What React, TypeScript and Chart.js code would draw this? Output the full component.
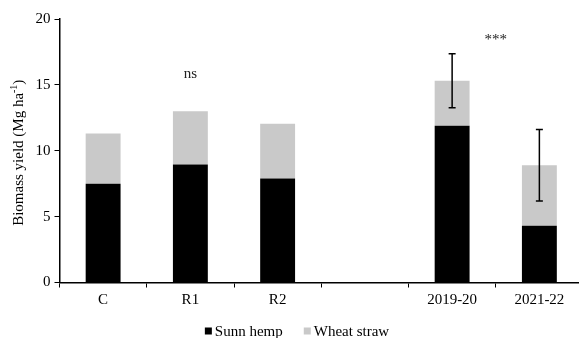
import React, { useEffect, useRef } from "react";
import { Chart, registerables } from "chart.js";

Chart.register(...registerables);

// Treatments and seasons along the x axis (the blank slot separates the two groups)
const categories = ["C", "R1", "R2", "", "2019-20", "2021-22"];
// Biomass yield (Mg ha-1), stacked by source
const sunnHemp = [7.5, 8.95, 7.9, null, 11.9, 4.3];
const wheatStraw = [3.8, 4.05, 4.15, null, 3.42, 4.6];
// Error (±) on the total biomass
const totalError = [null, null, null, null, 2.05, 2.72];
// Significance labels: text, x position (category index, may fall between bars), y value
const sigLabels: { text: string; x: number; y: number }[] = [
  { text: "ns", x: 1, y: 15.5 },
  { text: "***", x: 4.5, y: 18.1 },
];
const yTicks = [0, 5, 10, 15, 20];

const FONT = '"Liberation Serif", "Times New Roman", serif';
const HEMP_COLOR = "#000000";
const STRAW_COLOR = "#c9c9c9";

const CANVAS_W = 583;
const VIEW_W = 579;
const VIEW_H = 338;

const overlayPlugin = {
  id: "overlay",
  afterDatasetsDraw(chart: any) {
    const { ctx, scales, chartArea } = chart;
    const xs = scales.x;
    const ys = scales.y;
    ctx.save();

    // error bars on stacked totals
    ctx.strokeStyle = "#000";
    ctx.lineWidth = 1.5;
    totalError.forEach((err, i) => {
      if (err == null) return;
      const total = (sunnHemp[i] ?? 0) + (wheatStraw[i] ?? 0);
      const x = xs.getPixelForValue(i);
      const yTop = ys.getPixelForValue(total + err);
      const yBot = ys.getPixelForValue(total - err);
      const cap = 3.5;
      ctx.beginPath();
      ctx.moveTo(x, yTop);
      ctx.lineTo(x, yBot);
      ctx.moveTo(x - cap, yTop);
      ctx.lineTo(x + cap, yTop);
      ctx.moveTo(x - cap, yBot);
      ctx.lineTo(x + cap, yBot);
      ctx.stroke();
    });

    // significance labels
    ctx.fillStyle = "#222";
    ctx.font = `15px ${FONT}`;
    ctx.textAlign = "center";
    ctx.textBaseline = "alphabetic";
    sigLabels.forEach((s) => {
      const i0 = Math.floor(s.x);
      const frac = s.x - i0;
      const p0 = xs.getPixelForValue(i0);
      const p1 = frac > 0 ? xs.getPixelForValue(i0 + 1) : p0;
      const x = p0 + (p1 - p0) * frac;
      ctx.fillText(s.text, x, ys.getPixelForValue(s.y));
    });

    // y-axis title with superscript unit
    const cy = (chartArea.top + chartArea.bottom) / 2 + 2;
    ctx.translate(19, cy);
    ctx.rotate(-Math.PI / 2);
    ctx.fillStyle = "#000";
    ctx.textBaseline = "middle";
    ctx.textAlign = "left";
    const mainFont = `15px ${FONT}`;
    const supFont = `10px ${FONT}`;
    const partA = "Biomass yield (Mg ha";
    const partSup = "-1";
    const partB = ")";
    ctx.font = mainFont;
    const wA = ctx.measureText(partA).width;
    const wB = ctx.measureText(partB).width;
    ctx.font = supFont;
    const wS = ctx.measureText(partSup).width;
    let x0 = -(wA + wS + wB) / 2;
    ctx.font = mainFont;
    ctx.fillText(partA, x0, 0);
    x0 += wA;
    ctx.font = supFont;
    ctx.fillText(partSup, x0, -5);
    x0 += wS;
    ctx.font = mainFont;
    ctx.fillText(partB, x0, 0);
    ctx.setTransform(1, 0, 0, 1, 0, 0);

    // legend
    const items = [
      { label: "Sunn hemp", color: HEMP_COLOR },
      { label: "Wheat straw", color: STRAW_COLOR },
    ];
    ctx.font = `15px ${FONT}`;
    ctx.textBaseline = "alphabetic";
    ctx.textAlign = "left";
    const box = 7;
    const gapBox = 3;
    const gapItem = 21;
    const widths = items.map((it) => box + gapBox + ctx.measureText(it.label).width);
    const total = widths.reduce((a, b) => a + b, 0) + gapItem * (items.length - 1);
    let lx = 297 - total / 2;
    const baseline = 336;
    items.forEach((it, k) => {
      ctx.fillStyle = it.color;
      ctx.fillRect(lx, baseline - 8.5, box, box);
      ctx.fillStyle = "#000";
      ctx.fillText(it.label, lx + box + gapBox, baseline);
      lx += widths[k] + gapItem;
    });

    ctx.restore();
  },
};

export default function App() {
  const canvasRef = useRef<HTMLCanvasElement | null>(null);

  useEffect(() => {
    document.body.style.margin = "0";
    const canvas = canvasRef.current;
    if (!canvas) return;
    const chart = new Chart(canvas, {
      type: "bar",
      data: {
        labels: categories,
        datasets: [
          {
            label: "Sunn hemp",
            data: sunnHemp,
            backgroundColor: HEMP_COLOR,
            barPercentage: 0.4,
            categoryPercentage: 1,
          },
          {
            label: "Wheat straw",
            data: wheatStraw,
            backgroundColor: STRAW_COLOR,
            barPercentage: 0.4,
            categoryPercentage: 1,
          },
        ],
      },
      options: {
        responsive: false,
        animation: false,
        devicePixelRatio: 1,
        layout: { padding: { top: 19, right: 0, left: 0, bottom: 0 } },
        plugins: {
          legend: { display: false },
          tooltip: { enabled: false },
        },
        scales: {
          x: {
            stacked: true,
            offset: true,
            grid: {
              offset: true,
              drawOnChartArea: false,
              drawTicks: true,
              tickLength: 5,
              tickColor: "#000",
              color: "#000",
            },
            border: { color: "#000", width: 1.5 },
            ticks: {
              color: "#000",
              font: { family: FONT, size: 15 },
              padding: 4,
              maxRotation: 0,
              autoSkip: false,
            },
            afterFit(scale: any) {
              scale.height = 55.5;
            },
          },
          y: {
            stacked: true,
            min: 0,
            max: 20,
            afterBuildTicks(scale: any) {
              scale.ticks = yTicks.map((v) => ({ value: v }));
            },
            grid: {
              drawOnChartArea: false,
              drawTicks: true,
              tickLength: 5,
              tickColor: "#000",
              color: "#000",
            },
            border: { color: "#000", width: 1.5 },
            ticks: {
              color: "#000",
              font: { family: FONT, size: 15 },
              padding: 4,
            },
            afterFit(scale: any) {
              scale.width = 59.5;
            },
          },
        },
      },
      plugins: [overlayPlugin],
    });
    return () => chart.destroy();
  }, []);

  return (
    <div style={{ width: VIEW_W, height: VIEW_H, overflow: "hidden", background: "#fff" }}>
      <canvas ref={canvasRef} width={CANVAS_W} height={VIEW_H} />
    </div>
  );
}
